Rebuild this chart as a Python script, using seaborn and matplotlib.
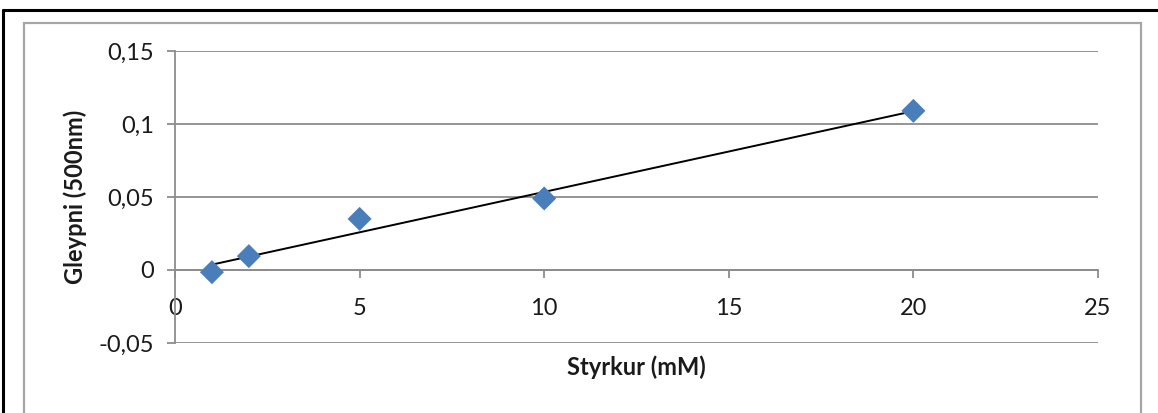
import numpy as np
import pandas as pd
import matplotlib
matplotlib.use("Agg")
import matplotlib.pyplot as plt
from matplotlib.patches import Rectangle
from matplotlib.lines import Line2D
from matplotlib.ticker import FuncFormatter, FixedLocator
import seaborn as sns

# Measurements: concentration (mM) vs absorbance at 500 nm
styrkur = [1, 2, 5, 10, 20]
gleypni = [-0.0015, 0.0095, 0.035, 0.049, 0.109]
x_ticks = [0, 5, 10, 15, 20, 25]
y_ticks = [-0.05, 0, 0.05, 0.10, 0.15]
x_title = "Styrkur (mM)"
y_title = "Gleypni (500nm)"

df = pd.DataFrame({"x": styrkur, "y": gleypni})

sns.set_theme(style="white")
plt.rcParams["font.family"] = ["Lato", "DejaVu Sans"]

W, H = 1158, 413
DPI = 100
fig = plt.figure(figsize=(W / DPI, H / DPI), dpi=DPI)
fig.patch.set_facecolor("white")

def px_box(x0, y0, x1, y1):
    return [x0 / W, 1 - y1 / H, (x1 - x0) / W, (y1 - y0) / H]

# Outer frame lines (black) and chart-area frame (grey)
fig.add_artist(Line2D([3 / W, 3 / W], [0, 1 - 10 / H], color="black", lw=2.2,
                      transform=fig.transFigure))
fig.add_artist(Line2D([3 / W, 1], [1 - 10 / H, 1 - 10 / H], color="black", lw=2.2,
                      transform=fig.transFigure))
fig.add_artist(Rectangle((24 / W, -0.01), (1141 - 24) / W, 1 - 23 / H + 0.01,
                         transform=fig.transFigure, fill=False,
                         edgecolor="#a6a6a6", lw=1.6))

ax = fig.add_axes(px_box(175, 51, 1098, 343))
ax.set_xlim(0, 25)
ax.set_ylim(-0.05, 0.15)

grid_c = "#8c8c8c"
for v in y_ticks:
    ax.axhline(v, color=grid_c, lw=1.3, zorder=0)

sns.regplot(data=df, x="x", y="y", ax=ax, scatter=False, ci=None,
            truncate=True, color="black", line_kws={"lw": 1.4, "zorder": 2})
sns.scatterplot(data=df, x="x", y="y", ax=ax, marker="D", s=150,
                color="#4a7ebb", edgecolor="none", zorder=3)

for s in ["top", "right"]:
    ax.spines[s].set_visible(False)
ax.spines["left"].set_color(grid_c)
ax.spines["left"].set_linewidth(1.3)
ax.spines["bottom"].set_position(("data", 0))
ax.spines["bottom"].set_color(grid_c)
ax.spines["bottom"].set_linewidth(1.3)

ax.xaxis.set_major_locator(FixedLocator(x_ticks))
ax.yaxis.set_major_locator(FixedLocator(y_ticks))
fmt = FuncFormatter(lambda v, p: ("%g" % round(v, 4)).replace(".", ","))
ax.xaxis.set_major_formatter(fmt)
ax.yaxis.set_major_formatter(fmt)
ax.tick_params(axis="both", which="major", direction="out", length=6,
               width=1.3, color=grid_c, labelsize=17, labelcolor="#1a1a1a",
               bottom=True, left=True)
ax.tick_params(axis="x", pad=14)
ax.tick_params(axis="y", pad=9)
ax.set_xlabel("")
ax.set_ylabel("")
ax.set_facecolor("white")

fig.text(636 / W, 1 - 367 / H, x_title, ha="center", va="center",
         fontsize=17, fontweight="bold", color="#1a1a1a")
fig.text(75 / W, 1 - 197 / H, y_title, ha="center", va="center",
         rotation=90, fontsize=17, fontweight="bold", color="#1a1a1a")

fig.savefig("out.png", dpi=DPI, facecolor="white")
